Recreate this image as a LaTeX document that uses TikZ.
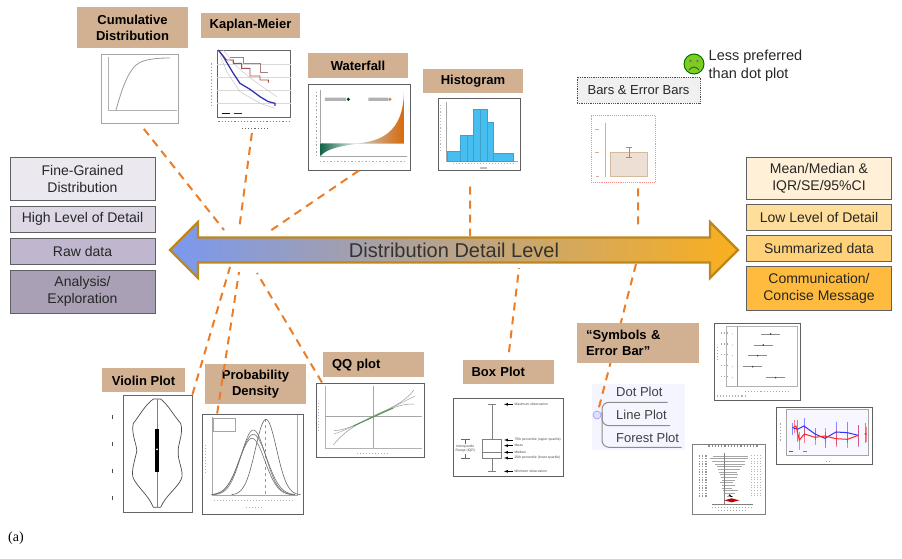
\documentclass[tikz,border=0pt]{standalone}
\usepackage{fontspec}
\setmainfont{Liberation Sans}
\newfontfamily\capfont{Liberation Serif}
\usetikzlibrary{arrows,positioning,shapes.arrows}
\definecolor{flow}{RGB}{236,125,40}
\definecolor{tan}{RGB}{210,176,146}
\definecolor{arrowedge}{RGB}{190,135,30}
\definecolor{frameg}{RGB}{95,95,100}
\definecolor{hi1}{RGB}{236,232,240}
\definecolor{hi2}{RGB}{222,216,228}
\definecolor{hi3}{RGB}{192,182,206}
\definecolor{hi4}{RGB}{170,160,182}
\definecolor{lo1}{RGB}{255,240,215}
\definecolor{lo2}{RGB}{255,222,155}
\definecolor{lo3}{RGB}{255,210,122}
\definecolor{lo4}{RGB}{255,187,62}
\definecolor{arrowleft}{RGB}{122,152,240}
\definecolor{arrowmid}{RGB}{192,160,135}
\definecolor{arrowright}{RGB}{250,175,30}
\definecolor{histbar}{RGB}{70,190,240}
\definecolor{wfgreen}{RGB}{20,100,75}
\definecolor{wforange}{RGB}{215,105,10}
\definecolor{frownfill}{RGB}{125,205,30}
\begin{document}
\begin{tikzpicture}[x=1pt,y=-1pt,
        crop/.style 2 args={shift={(#1,#2)},x=0.3333pt,y=-0.3333pt},
        sidebox/.style={draw=frameg,line width=1pt,inner sep=0pt,minimum width=145pt,align=center,
            text=black!85,font=\fontsize{14}{17}\selectfont},
        plotlabel/.style={fill=tan,inner sep=0pt,align=center,text=black,
            font=\fontsize{13}{16}\selectfont\bfseries},
        plotframe/.style={draw=frameg,line width=1pt,fill=white,inner sep=0pt},
        thinframe/.style={draw=black!35,line width=.8pt,fill=white,inner sep=0pt},
        treetext/.style={anchor=west,inner sep=0pt,text=black!75,font=\fontsize{13}{15}\selectfont},
        flowline/.style={draw=flow,line width=2pt,dash pattern=on 8pt off 6pt},
        tiny/.style={inner sep=0pt,text=black!70,font=\fontsize{3.4}{4}\selectfont}]
        \useasboundingbox (0,0) rectangle (902,559);
        % left and right stacks
        \node[sidebox,fill=hi1,minimum height=43pt] (fine) at (82.5,178.5) {Fine-Grained\\Distribution};
        \node[sidebox,fill=hi2,minimum height=26pt,below=5pt of fine] (high) {High Level of Detail};
        \node[sidebox,fill=hi3,minimum height=26pt,below=5pt of high] (raw) {Raw data};
        \node[sidebox,fill=hi4,minimum height=43pt,below=5pt of raw] (analysis) {Analysis/\\Exploration};
        \node[sidebox,fill=lo1,minimum height=42pt] (mean) at (819,178) {Mean/Median \&\\IQR/SE/95\%CI};
        \node[sidebox,fill=lo2,minimum height=26pt,below=4pt of mean] (low) {Low Level of Detail};
        \node[sidebox,fill=lo3,minimum height=26pt,below=4pt of low] (summ) {Summarized data};
        \node[sidebox,fill=lo4,minimum height=44pt,below=4pt of summ] (comm) {Communication/\\Concise Message};
        % plot frames
        \node[thinframe,minimum width=77pt,minimum height=69pt] (cumplot) at (139.5,88.5) {};
        \node[inner sep=0pt,minimum width=74pt,minimum height=68pt] (kmplot) at (254,83) {};
        \node[plotframe,minimum width=102pt,minimum height=85pt] (wfplot) at (359,127.5) {};
        \node[plotframe,minimum width=82pt,minimum height=71pt] (histplot) at (479,134.5) {};
        \node[draw=red!45,densely dotted,line width=.9pt,inner sep=0pt,minimum width=64pt,minimum height=67pt] (barplot) at (623,148.5) {};
        \node[thinframe,draw=black!60,minimum width=69pt,minimum height=117pt] (violplot) at (157.5,453.5) {};
        \node[plotframe,minimum width=101pt,minimum height=100pt] (probplot) at (252.5,464) {};
        \node[plotframe,minimum width=108pt,minimum height=74pt] (qqplot) at (370,420) {};
        \node[plotframe,minimum width=110pt,minimum height=78pt] (boxplot) at (508,437) {};
        \node[plotframe,minimum width=86pt,minimum height=77pt] (dotplot) at (757,361.5) {};
        \node[plotframe,minimum width=96pt,minimum height=57pt] (lineplot) at (824,435.5) {};
        \node[plotframe,draw=black!50,minimum width=73pt,minimum height=70pt] (forestplot) at (728.5,479) {};
        % plot contents
        \begin{scope}[crop={60}{0}]
          % cumulative
          \draw[black!30,line width=.5pt] (145,170) -- (145,332) -- (350,332);
          \draw[black!40,line width=.8pt] (168,330) .. controls (185,270) and (205,205) .. (240,187) .. controls (265,176) and (300,174) .. (330,174);
          % kaplan-meier
          \draw[black!60,line width=.9pt,fill=white] (472,150) rectangle (692,352);
          \draw[black!15,line width=.4pt] (472,192) -- (692,192) (472,232) -- (692,232) (472,270) -- (692,270) (472,310) -- (692,310);
          \draw[black!25,line width=.4pt] (490,150) -- (525,195) -- (560,225) -- (600,255) -- (650,290);
          \draw[black!25,line width=.4pt] (480,165) -- (500,215) -- (540,275) -- (600,310) -- (645,325);
          \draw[red!30!black!50,line width=.3pt] (510,170) -| (550,190) -| (600,215) -| (625,215);
          \draw[red!50!black!70,line width=.9pt] (475,150) -- (500,180) -| (520,190) -| (545,205) -| (570,228) -| (600,240) -| (625,248);
          \draw[blue!60!black!80,line width=1.3pt] (475,150) -- (490,170) -- (505,195) -- (520,220) -- (540,250) -- (570,268) -- (600,290) -- (625,305) -- (645,310) -- (645,318);
          \draw[blue!60!black,line width=.5pt] (485,340) -- (510,340);
          \draw[red!60!black,line width=.5pt] (522,340) -- (545,340);
          \draw[black!50,line width=1.2pt,dotted] (475,365) -- (690,365);
          \draw[black!60,line width=1.2pt,dotted] (545,385) -- (622,385);
          \draw[black!40,line width=1.2pt,dotted] (455,190) -- (455,320);
          % waterfall
          \draw[black!35,line width=.5pt] (781,270) -- (781,468) -- (1042,468);
          \draw[black!35,line width=1.5pt,dotted] (770,275) -- (770,465);
          \draw[black!30,line width=1.5pt,dotted] (780,485) -- (1042,485);
          \fill[black!30] (795,293) rectangle (858,303) (925,293) rectangle (985,303);
          \fill[black!80!green] (865,298) circle (5);
          \fill[flow] (990,298) circle (5);
          \shade[left color=wfgreen,middle color=wfgreen!85,right color=white] (782,430) -- (905,430) .. controls (850,436) and (800,445) .. (782,468) -- cycle;
          \shade[left color=black!20,middle color=wforange!60,right color=wforange] (885,431) .. controls (960,425) and (1030,400) .. (1032,275) -- (1032,431) -- cycle;
        \end{scope}
        \begin{scope}[crop={420}{65}]
          % histogram
          \draw[black!35,line width=.4pt] (80,110) -- (80,288) -- (295,288);
          \draw[black!30,line width=1.2pt,dotted] (62,120) -- (62,262);
          \draw[black!30,line width=1pt,dotted] (100,295) -- (285,295);
          \foreach \xa/\xb/\yb in {80/120/258,120/140/210,140/160/210,160/180/133,180/200/133,200/220/172,220/280/265}
            \draw[fill=histbar,draw=histbar!85!black,line width=.3pt] (\xa,288) rectangle (\xb,\yb);
          \fill[black!25] (180,307) rectangle (200,313);
        \end{scope}
        \begin{scope}[crop={560}{30}]
          % bars and error bars
          \draw[tan,line width=.8pt] (137,278) -- (137,440) (105,298) -- (118,298) (105,368) -- (118,368) (108,438) -- (118,438);
          \draw[tan!90,fill=tan!40,line width=.6pt] (152,367) rectangle (263,439);
          \draw[tan!80!black,line width=.7pt] (207,353) -- (207,382) (198,353) -- (216,353) (198,382) -- (216,382);
        \end{scope}
        \begin{scope}[crop={90}{340}]
          % violin
          \draw[black!70,line width=.7pt] (190,177) .. controls (165,195) and (150,225) .. (130,250) .. controls (122,280) and (143,320) .. (140,335) .. controls (135,360) and (122,395) .. (130,415) .. controls (145,445) and (175,465) .. (190,502) -- (212,502) .. controls (228,465) and (262,445) .. (275,415) .. controls (282,395) and (262,360) .. (265,335) .. controls (262,315) and (282,280) .. (272,250) .. controls (250,225) and (235,195) .. (212,177) -- cycle;
          \draw[black!50,line width=.8pt] (201,177) -- (201,502);
          \fill[black] (195,267) rectangle (208,397);
          \fill[white] (201,328) circle (3);
          \draw[black!70,line width=.7pt] (68,226) -- (68,238) (68,307) -- (68,319) (68,387) -- (68,399) (68,467) -- (68,479);
          % probability density
          \draw[black!35,line width=.5pt] (367,230) -- (367,465) -- (622,465) -- (622,225);
          \draw[black!30,line width=1pt,dotted] (348,315) -- (348,400);
          \draw[black!30,line width=1pt,dotted] (372,482) -- (612,482);
          \draw[black!30,line width=1pt,dotted] (468,502) -- (520,502);
          \draw[black!35,line width=.4pt] (370,234) rectangle (436,274);
          \draw[black!40,line width=.5pt,dashed] (526,238) -- (526,465);
          \draw[black!60,line width=.6pt,domain=425:632,samples=50] plot (\x,{465-227*exp(-((\x-528)/38)^2/1.4)});
          \draw[black!55,line width=.6pt,domain=365:615,samples=50] plot (\x,{465-195*exp(-((\x-490)/44)^2/1.4)});
          \draw[black!55,line width=.6pt,domain=365:615,samples=50] plot (\x,{465-182*exp(-((\x-490)/48)^2/1.4)});
          \draw[black!55,line width=.6pt,domain=365:615,samples=50] plot (\x,{465-170*exp(-((\x-486)/46)^2/1.4)});
        \end{scope}
        \begin{scope}[crop={310}{380}]
          % qq
          \draw[black!30,line width=.4pt] (45,18) -- (45,205) -- (337,205);
          \draw[black!35,line width=.6pt] (45,108) -- (337,108) (190,18) -- (190,205);
          \draw[black!40,line width=.5pt] (70,195) .. controls (110,145) and (150,130) .. (190,108) .. controls (240,85) and (280,70) .. (312,30);
          \draw[black!40,line width=.5pt] (72,152) .. controls (110,150) and (150,130) .. (190,108) .. controls (240,85) and (280,70) .. (312,72);
          \draw[black!35,line width=.5pt] (72,162) .. controls (110,150) and (150,128) .. (190,108) .. controls (240,88) and (280,65) .. (315,48);
          \draw[green!40!black!70,line width=.9pt] (130,138) -- (250,84);
          \draw[black!30,line width=1pt,dotted] (142,222) -- (240,222);
          \draw[black!30,line width=1pt,dotted] (24,70) -- (24,155);
        \end{scope}
        \begin{scope}[crop={440}{310}]
          % box plot
          \draw[black!50,line width=.7pt] (145,283) -- (167,283) (156,283) -- (156,388) (156,445) -- (156,483) (145,483) -- (167,483);
          \draw[black!50,line width=.7pt] (128,388) rectangle (183,445) (128,427) -- (183,427);
          \foreach \y in {283,390,407,427,444,484}
            \draw[-latex,black,line width=.35pt] (218,\y) -- (192,\y);
          \draw[black!60,line width=.5pt] (62,388) -- (90,388) (62,445) -- (90,445) (76,390) -- (76,402) (76,432) -- (76,444);
          \node[tiny,anchor=west] (maxobs) at (223,283) {Maximum observation};
          \node[tiny,anchor=west] (upper) at (223,390) {75th percentile (upper quartile)};
          \node[tiny,anchor=west] (meanobs) at (223,407) {Mean};
          \node[tiny,anchor=west] (median) at (223,427) {Median};
          \node[tiny,anchor=west] (lower) at (223,444) {25th percentile (lower quartile)};
          \node[tiny,anchor=west] (minobs) at (223,484) {Minimum observation};
          \node[tiny,align=center] (iqr) at (76,417) {Interquartile\\Range (IQR)};
          % dot plot
          \draw[black!30,line width=.4pt] (860,50) rectangle (1072,228);
          \draw[black!40,line width=.4pt] (893,50) -- (893,228);
          \foreach \y/\m in {72/992,105/970,137/953,170/938,203/1007} {
            \draw[black!45,line width=.5pt] (\m-28,\y) -- (\m+28,\y);
            \fill[black!80] (\m,\y) circle (2.6);
            \draw[black!35,line width=1.1pt,dotted] (842,\y-3) -- (863,\y-3);
            \fill[black!35] (878,\y) circle (1.5);
          }
          \draw[black!35,line width=1.1pt,dotted] (915,244) -- (1048,244);
          \draw[black!30,line width=1.1pt,dotted] (830,258) -- (922,258);
          \draw[black!35,line width=1.1pt,dotted] (832,110) -- (832,150);
          % forest plot
          \draw[black!45,line width=1.2pt,dotted] (805,408) -- (955,408);
          \foreach \y/\xa/\xb in {438/820/925,446/810/925,454/815/915,462/825/915,470/830/905,478/835/900,486/838/890,494/840/895,502/843/890,510/845/885,518/840/880,526/845/885,534/845/875,542/850/893,550/855/885,558/860/880}{
            \draw[black!35,line width=.4pt] (\xa,\y) -- (\xb,\y);
            \draw[black!40,line width=1.3pt,dotted] (776,\y) -- (805,\y);
            \draw[black!30,line width=1pt,dotted] (934,\y) -- (966,\y);
          }
          \draw[black!50,line width=.4pt] (852,430) -- (852,582) (815,582) -- (940,582);
          \draw[black!35,line width=1pt,dotted] (815,592) -- (940,592);
          \draw[black!35,line width=1pt,dotted] (835,603) -- (920,603);
          \fill[red!75!black] (853,571) -- (875,565) -- (898,571) -- (875,577) -- cycle;
          \fill[black] (868,553) -- (878,561) -- (873,561) -- (866,556) -- cycle;
        \end{scope}
        \begin{scope}[crop={770}{400}]
          % line plot
          \fill[red!3!blue!3] (50,28) rectangle (296,165);
          \draw[black!35,line width=.4pt] (50,28) rectangle (296,165);
          \foreach \x/\ya/\yb in {68/70/105,82/60/125,102/55/110,135/85/120,165/95/145,198/65/135,232/65/130,265/75/140,285/70/130}
            \draw[blue!75,line width=.5pt,opacity=.6] (\x,\ya) -- (\x,\yb);
          \foreach \x/\ya/\yb in {72/60/100,88/95/150,103/75/130,135/90/135,165/85/130,198/90/140,232/95/145,265/75/135,288/80/125}
            \draw[red!80,line width=.5pt,opacity=.6] (\x,\ya) -- (\x,\yb);
          \draw[blue!80,line width=1pt] (68,83) -- (82,88) -- (102,78) -- (135,102) -- (165,115) -- (198,96) -- (232,98) -- (265,106) (285,100) -- (288,104);
          \draw[red!85,line width=1pt] (68,83) -- (78,78) -- (88,120) -- (103,102) -- (135,112) -- (165,108) -- (198,116) -- (232,118) -- (265,106) (285,100) -- (288,104);
          \draw[blue!70,line width=.6pt] (58,154) -- (70,154);
          \draw[red!70,line width=.6pt] (100,154) -- (112,154);
          \draw[black!35,line width=1.2pt,dotted] (168,185) -- (182,185);
          \draw[black!35,line width=1.2pt,dotted] (32,70) -- (32,125);
        \end{scope}
        % dashed connectors under the arrow and the labels
        \coordinate (cumend) at (224,230);
        \coordinate (kmend) at (239,230);
        \coordinate (wfend) at (270,231);
        \coordinate (histend) at (470,236);
        \coordinate (barend) at (638,228);
        \coordinate (barlow) at (636,264);
        \coordinate (violend) at (230,267);
        \coordinate (probend) at (239,272);
        \coordinate (qqend) at (257,273);
        \coordinate (boxend) at (519,268);
        \node[fill=blue!4,inner sep=0pt,minimum width=93pt,minimum height=66pt] (treepanel) at (638.5,417) {};
        \node[circle,draw=blue!40,fill=blue!12,line width=.6pt,inner sep=0pt,minimum size=8pt] (treedot) at (597,415) {};
        \draw[black!45,line width=1pt,rounded corners=7pt] (667.7,402.3) -- (602,402.3) -- (602,447.3) -- (681.7,447.3);
        \draw[black!45,line width=1pt,rounded corners=7pt] (602,412) -- (602,425.7) -- (670,425.7);
        \node[treetext] (dottext) at (616,392) {Dot Plot};
        \node[treetext] (linetext) at (616,415) {Line Plot};
        \node[treetext] (foresttext) at (616,438) {Forest Plot};
        \draw[flowline,shorten <=7pt] (cumplot.south) -- (cumend);
        \draw[flowline,shorten <=16pt] (kmplot.south) -- (kmend);
        \draw[flowline] (wfplot.south) -- (wfend);
        \draw[flowline,shorten <=16pt] (histplot.-104) -- (histend);
        \draw[flowline,shorten <=6pt] (barplot.-66) -- (barend);
        \draw[flowline] (barlow) -- (treedot);
        \draw[flowline] (violplot.north east) -- (violend);
        \draw[flowline] (qqplot.142) -- (qqend);
        % main arrow
        \node[double arrow,draw=arrowedge,line width=2.2pt,inner sep=2pt,minimum height=568pt,minimum width=56pt,
            double arrow tip angle=90,double arrow head extend=13pt,
            left color=arrowleft,middle color=arrowmid,right color=arrowright,
            text=black!80,font=\fontsize{20}{24}\selectfont] (detail) at (454,250) {Distribution Detail Level};
        % labels
        \node[plotlabel,minimum width=111pt,minimum height=41pt,above=5pt of cumplot,xshift=-7pt] (cumlabel) {Cumulative\\Distribution};
        \node[plotlabel,minimum width=99pt,minimum height=25pt,above=11pt of kmplot,xshift=-3.5pt] (kmlabel) {Kaplan-Meier};
        \node[plotlabel,minimum width=100pt,minimum height=25pt,above=6pt of wfplot,xshift=-1pt] (wflabel) {Waterfall};
        \node[plotlabel,minimum width=100pt,minimum height=24pt,above=5pt of histplot,xshift=-6pt] (histlabel) {Histogram};
        \node[fill=black!6,draw=black!70,densely dotted,line width=.8pt,inner sep=0pt,minimum width=123pt,minimum height=26pt,
            font=\fontsize{13}{15}\selectfont,text=black!85] (barlabel) at (638.5,90) {Bars \& Error Bars};
        \node[circle,draw=green!45!black,fill=frownfill,line width=1pt,inner sep=0pt,minimum size=20pt] (frown) at (694,64) {};
        \fill[black!55] (690.5,61) circle (1.3) (697.5,61) circle (1.3);
        \draw[black!70,line width=.9pt] (689,70) .. controls (692,66) and (696,66) .. (699,70);
        \node[right=4pt of frown,yshift=-2pt,inner sep=0pt,align=left,text=black!85,font=\fontsize{14.5}{18}\selectfont] (lessnote) {Less preferred\\than dot plot};
        \node[plotlabel,minimum width=83pt,minimum height=24pt,above=2pt of violplot,xshift=-14pt] (viollabel) {Violin Plot};
        \node[plotlabel,minimum width=101pt,minimum height=40pt,above=9pt of probplot,xshift=3pt] (problabel) {Probability\\Density};
        \node[plotlabel,minimum width=101pt,minimum height=25pt,above=5pt of qqplot,xshift=3.5pt,align=left,text width=83pt] (qqlabel) {QQ plot};
        \node[plotlabel,minimum width=91pt,minimum height=24pt,above=13pt of boxplot,text width=73pt,align=left] (boxlabel) {Box Plot};
        \node[plotlabel,minimum width=122pt,minimum height=40pt,text width=104pt,align=left] (symlabel) at (638,343) {``Symbols \&\\Error Bar''};
        \draw[flowline] (probplot.125) -- (probend);
        \draw[flowline,shorten <=8pt] (boxlabel.north) -- (boxend);
        \node[anchor=west,inner sep=0pt,text=black,font=\capfont\fontsize{14}{16}\selectfont] (panel) at (8,538) {(a)};
        \end{tikzpicture}
\end{document}
